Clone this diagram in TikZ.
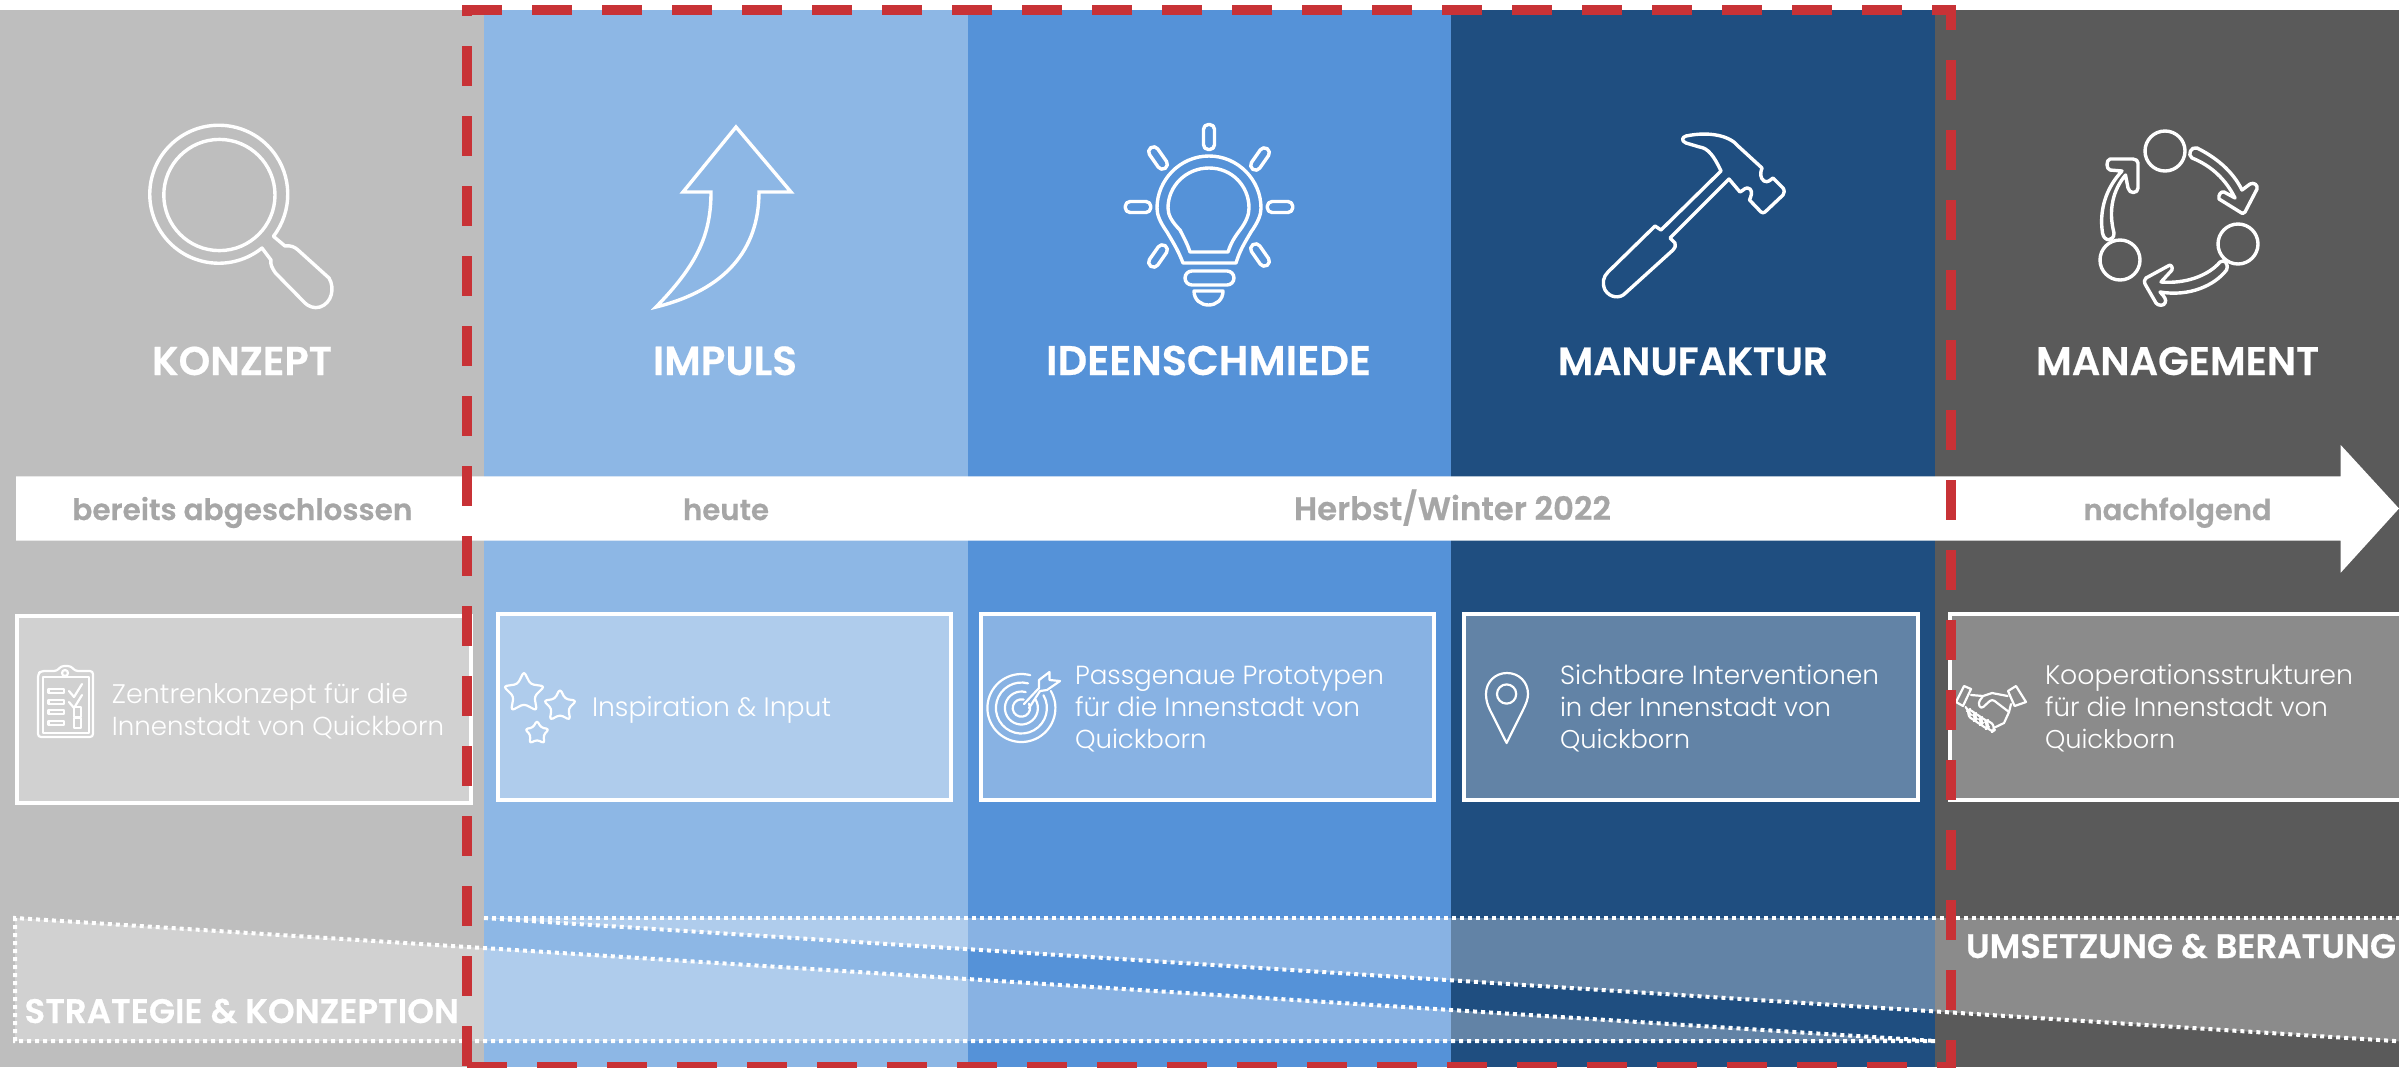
\documentclass[tikz,border=0pt]{standalone}
\usepackage{fontspec}
\usepackage{graphicx}
\setmainfont{Poppins Light}
\newfontfamily\headf[FakeBold=0.5]{Poppins SemiBold}
\newfontfamily\bodyf{Poppins Light}
\definecolor{cA}{HTML}{BEBEBE}
\definecolor{cB}{HTML}{8DB7E5}
\definecolor{cC}{HTML}{5592D8}
\definecolor{cD}{HTML}{1F4E80}
\definecolor{cE}{HTML}{5A5A5A}
\definecolor{cR}{HTML}{C83236}
\definecolor{cT}{HTML}{A6A6A6}
\tikzset{
  icon/.style={draw=white,line width=1.7pt,line join=round,line cap=round},
  smallicon/.style={draw=white,line width=1.1pt,line join=round,line cap=round},
  infobox/.style={draw=white,line width=2pt,fill=white,fill opacity=.3,draw opacity=1},
  wedge/.style={fill=white,fill opacity=.3},
  dots/.style={draw=white,line width=2pt,dash pattern=on 2pt off 2pt},
  reddash/.style={draw=cR,line width=5pt,dash pattern=on 20pt off 15pt},
  redsolid/.style={draw=cR,line width=5pt},
  txt/.style={inner sep=0pt,outer sep=0pt,anchor=base west},
}
\newcommand\pxw[1]{\dimexpr #1pt/2\relax}
\newcommand\heading[4]{\node[txt,text=white] (#1) at (#2,375) {\resizebox{\pxw{#3}}{!}{\headf #4}};}
\newcommand\wlabel[5]{\node[txt,text=#5] (#1) at (#2) {\resizebox{\pxw{#3}}{!}{\headf #4}};}
\newcommand\bodyline[5]{\node[txt,text=white] (#1) at (#2,#3) {\resizebox{\pxw{#4}}{!}{\bodyf #5}};}
\newcommand\capsule[6][icon]{\draw[#1,rounded corners=2.4pt,rotate around={#6:(#2,#3)}] ({#2-#4/2},{#3-#5/2}) rectangle ({#2+#4/2},{#3+#5/2});}
\newcommand\starico[3]{\draw[smallicon,rounded corners=1.6pt,shift={(#1,#2)},scale=#3] (0,-1.08)--(.323,-.444)--(1.03,-.335)--(.522,.170)--(.64,.88)--(0,.549)--(-.64,.88)--(-.522,.170)--(-1.03,-.335)--(-.323,-.444)--cycle;}
\begin{document}
\begin{tikzpicture}[x=.5pt,y=-.5pt]
\clip (0,0) rectangle (2399,1067);
\fill[white] (0,0) rectangle (2399,1067);
% columns
\fill[cA] (0,10) rectangle (484,1067);
\fill[cB] (484,10) rectangle (968,1067);
\fill[cC] (968,10) rectangle (1451,1067);
\fill[cD] (1451,10) rectangle (1935,1067);
\fill[cE] (1935,10) rectangle (2399,1067);
% wedges
\fill[wedge] (15,918) -- (1935,1041) -- (15,1041) -- cycle;
\fill[wedge] (484,918) -- (2410,918) -- (2410,1042) -- cycle;
\draw[dots] (1935,1041) -- (15,1041) -- (15,918) -- (1935,1041);
\draw[dots] (484,918) -- (2410,918);
\draw[dots] (484,918) -- (2410,1042);
% info boxes
\path[infobox] (17,616) rectangle (471,803);
\path[infobox] (498,613.5) rectangle (951,800);
\path[infobox] (981,613.5) rectangle (1434,800);
\path[infobox] (1464,613.5) rectangle (1918,800);
\path[infobox] (1950,613.5) rectangle (2420,800);
% timeline arrow
\fill[white] (16,476.3) -- (2340.7,476.3) -- (2340.7,445) -- (2399,508.5) -- (2340.7,572.7) -- (2340.7,540.7) -- (16,540.7) -- cycle;
% headings
\heading{hKonzept}{152}{180}{KONZEPT}
\heading{hImpuls}{653}{144}{IMPULS}
\heading{hIdeen}{1046}{325}{IDEENSCHMIEDE}
\heading{hManu}{1558}{270}{MANUFAKTUR}
\heading{hMan}{2036}{283}{MANAGEMENT}
% timeline labels
\wlabel{tA}{72.4,520}{340}{bereits abgeschlossen}{cT}
\wlabel{tB}{683,520}{86}{heute}{cT}
\wlabel{tC}{1294,520}{317}{Herbst/Winter 2022}{cT}
\wlabel{tD}{2083.5,520}{188}{nachfolgend}{cT}
% box texts
\bodyline{bA}{112}{703}{296}{Zentrenkonzept für die}
\bodyline{bB}{112}{735.7}{332}{Innenstadt von Quickborn}
\bodyline{bC}{592}{716.7}{239}{Inspiration \& Input}
\bodyline{bD}{1075}{684}{309}{Passgenaue Prototypen}
\bodyline{bE}{1075}{716.7}{285}{für die Innenstadt von}
\bodyline{bF}{1075}{748}{131.6}{Quickborn}
\bodyline{bG}{1560}{684}{319}{Sichtbare Interventionen}
\bodyline{bH}{1560}{716.7}{271}{in der Innenstadt von}
\bodyline{bI}{1560}{748}{130}{Quickborn}
\bodyline{bJ}{2045}{684}{308}{Kooperationsstrukturen}
\bodyline{bK}{2045}{716.7}{283}{für die Innenstadt von}
\bodyline{bL}{2045}{748}{130}{Quickborn}
% wedge labels
\wlabel{wA}{24.5,1023}{434.5}{STRATEGIE \& KONZEPTION}{white}
\wlabel{wB}{1966,958}{430}{UMSETZUNG \& BERATUNG}{white}
% magnifier
\draw[icon] (219.4,195) circle[radius=27.8pt];
\draw[icon] (262,248) arc[start angle=-51.2,end angle=-397.6,radius=34.5pt]
  -- (285,246) .. controls (290,245) and (295,247) .. (298,250) -- (329,278)
  .. controls (335,288) and (332,303) .. (320,307) .. controls (314,309) and (308,306) .. (305,303)
  -- (275.5,273) .. controls (272,268) and (270,264) .. (271,260) -- cycle;
% impuls arrow
\draw[icon,line join=miter] (736,127) -- (791,192) -- (759,192) .. controls (759,250) and (725,290) .. (656,307)
  .. controls (697,265) and (711,235) .. (711,192) -- (683,192) -- cycle;
% bulb
\draw[icon] (1183,263) .. controls (1178,250) and (1174,244) .. (1167,232) .. controls (1160,222) and (1157,215) .. (1157,208)
  .. controls (1157,180) and (1180,156) .. (1209,156) .. controls (1238,156) and (1261,180) .. (1261,208)
  .. controls (1261,215) and (1258,222) .. (1251,232) .. controls (1244,244) and (1240,250) .. (1236,263) -- cycle;
\draw[icon] (1190,252) .. controls (1187,243) and (1184,238) .. (1180,230) .. controls (1172,222) and (1168,215) .. (1168,208)
  .. controls (1168,186) and (1186,168) .. (1209,168) .. controls (1232,168) and (1249,186) .. (1249,208)
  .. controls (1249,215) and (1246,222) .. (1240,230) .. controls (1234,238) and (1231,243) .. (1228,252) -- cycle;
\capsule{1209}{137}{11}{25}{0}
\capsule{1138}{207}{25.5}{11}{0}
\capsule{1280}{207}{25.5}{11}{0}
\capsule{1158}{158}{25}{10}{-55}
\capsule{1260}{159}{25}{10}{55}
\capsule{1158}{256}{25}{10}{55}
\capsule{1260}{255}{25}{10}{-55}
\draw[icon,rounded corners=3.5pt] (1185,271) rectangle (1234,285);
\draw[icon] (1194,291) -- (1223,291) .. controls (1223,300) and (1216,305) .. (1208.5,305) .. controls (1201,305) and (1194,300) .. (1194,291) -- cycle;
% hammer
\draw[icon] (1721,171) .. controls (1714,156) and (1708,148) .. (1699.5,147) -- (1686,143)
  .. controls (1681,141) and (1682,137) .. (1686,136) .. controls (1710,131) and (1730,136) .. (1738,146)
  -- (1762,168) .. controls (1760,173) and (1760,178) .. (1764,181) .. controls (1768,183) and (1770,180) .. (1773,178)
  -- (1783,188) .. controls (1785,191) and (1784,193) .. (1783,195) -- (1765,212) .. controls (1764,213) and (1762,213) .. (1761,212)
  -- (1749.5,200) .. controls (1751,196) and (1753,192) .. (1750,189) .. controls (1746,186) and (1744,190) .. (1740,192)
  -- (1729,179) -- (1670,238) -- (1675,243) .. controls (1676,246) and (1675,248) .. (1673,250)
  -- (1625.5,293) .. controls (1620,299) and (1610,298) .. (1605,290) .. controls (1602,283) and (1603,277) .. (1608,272)
  -- (1655,226) -- (1661,230) -- cycle;
% cycle icon
\draw[icon] (2165,151) circle[radius=10pt];
\draw[icon] (2238,244) circle[radius=10pt];
\draw[icon] (2120,260) circle[radius=10pt];
\draw[icon] (2197,148) .. controls (2215,157) and (2232,170) .. (2242,190) -- (2250,184)
  .. controls (2254,182) and (2258,185) .. (2257,189) -- (2245,212) .. controls (2244,214) and (2241,214) .. (2240,212)
  -- (2219,199) .. controls (2218,195) and (2221,191) .. (2224,192) -- (2235,198)
  .. controls (2226,180) and (2212,166) .. (2192,158) .. controls (2187,155) and (2191,146) .. (2197,148) -- cycle;
\draw[icon] (2220,262) .. controls (2208,276) and (2185,284) .. (2161,282) -- (2172,270)
  .. controls (2173,266) and (2170,264) .. (2168,266) -- (2146,278) .. controls (2144,280) and (2144,282) .. (2145,284)
  -- (2156,303) .. controls (2158,306) and (2164,306) .. (2165,303) .. controls (2167,300) and (2164,296) .. (2160,292)
  .. controls (2190,297) and (2215,285) .. (2226.5,270) .. controls (2229,263) and (2224,259) .. (2220,262) -- cycle;
\draw[icon] (2102.5,233) .. controls (2099,210) and (2106,188) .. (2122,171) -- (2110,170)
  .. controls (2106,169) and (2106,160) .. (2110,159) -- (2133,159) .. controls (2136,159) and (2138,161) .. (2138,163)
  -- (2138,188) .. controls (2138,194) and (2129,194) .. (2128,188) -- (2125.5,175)
  .. controls (2113,190) and (2108,210) .. (2114,233) .. controls (2114,242) and (2104,242) .. (2102.5,233) -- cycle;
% clipboard
\draw[smallicon,rounded corners=1.5pt] (57,671) -- (41,671) -- (38,674) -- (38,737) -- (93,737) -- (93,671) -- (75,671) -- (71,666) -- (61,666) -- cycle;
\draw[smallicon] (43,677) rectangle (89,733);
\draw[smallicon] (65,673) circle[radius=1.5pt];
\foreach \yy in {691,702,712,723}{\draw[smallicon] (48.5,\yy-2) rectangle (64,\yy+2);}
\foreach \yy in {691,702}{\draw[smallicon] (69,\yy) -- (74,\yy+6) -- (82,\yy-7);}
\foreach \yy in {712,723}{\draw[smallicon] (74,\yy-5) rectangle (81,\yy+5);}
% stars
\starico{524}{693}{20}
\starico{560}{706}{16}
\starico{537}{733}{12}
% target
\foreach \rr in {34,25.5,16.5,8.7}{\draw[smallicon] ({1021.4+\rr*cos(30)},{708-\rr*sin(30)}) arc[start angle=30,end angle=-285,radius=\rr*.5pt];}
\draw[smallicon] (1024,704) -- (1039,688) -- (1039,680) -- (1049.5,672) -- (1049.5,680) -- (1060,681) -- (1047,690) -- (1040,691) -- (1029,708);
% pin
\draw[smallicon] (1506.6,743) -- (1490,710) .. controls (1487,704) and (1486,699) .. (1486,694) .. controls (1486,682) and (1495,673) .. (1507,673) .. controls (1519,673) and (1528,682) .. (1528,694) .. controls (1528,699) and (1526,704) .. (1523,710) -- cycle;
\draw[smallicon] (1506.6,694) circle[radius=4.8pt];
% handshake
\draw[smallicon] (1964,686) -- (1971,689) -- (1963,706) -- (1956,702) -- cycle;
\draw[smallicon] (2016,686) -- (2026,702) -- (2014.6,706) -- (2008,691) -- cycle;
\draw[smallicon] (1971,695) -- (1983,696) -- (1992,693) -- (2007.6,696);
\draw[smallicon] (2011,704) -- (2009,712) -- (2004,723) -- (1993.6,728);
\draw[smallicon,rounded corners=1.5pt] (1983,696) -- (1978,703) -- (1981,709) -- (1992,699) -- (2009,712);
\draw[smallicon] (1965.6,707) -- (1971,715);
\foreach \xa/\ya in {1972/715,1978/719,1984/723,1990/726}{\capsule[smallicon]{\xa}{\ya}{12}{6}{-55}}
% red dashed frame
\draw[reddash] (462,10) -- (1956,10);
\draw[redsolid] (467,5) -- (467,16);
\draw[reddash] (467,46) -- (467,1072);
\draw[reddash] (467,1067) -- (1956,1067);
\draw[redsolid] (1951,5) -- (1951,30);
\draw[reddash] (1951,60) -- (1951,1072);
\end{tikzpicture}
\end{document}
